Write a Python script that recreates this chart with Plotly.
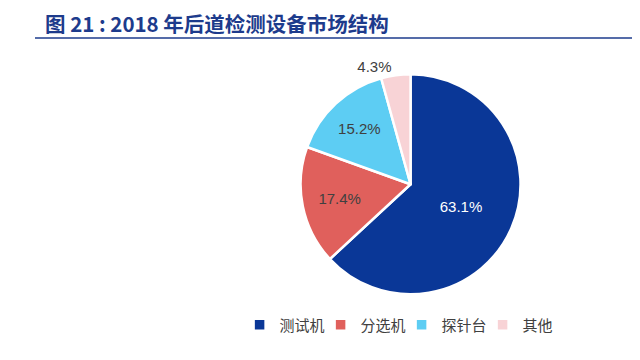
import plotly.graph_objects as go

categories = ["测试机", "分选机", "探针台", "其他"]
values = [63.1, 17.4, 15.2, 4.3]
colors = ["#0A3797", "#E0605C", "#5DCDF3", "#F8D3D6"]
text_colors = ["#FFFFFF", "#404040", "#404040", "#404040"]
positions = ["inside", "inside", "inside", "outside"]
title_text = "图 21 : 2018 年后道检测设备市场结构"

fig = go.Figure(go.Pie(
    labels=categories,
    values=values,
    sort=False,
    direction="clockwise",
    rotation=0,
    marker=dict(colors=colors, line=dict(color="#FFFFFF", width=2.5)),
    texttemplate="%{value:.1f}%",
    textposition=positions,
    insidetextorientation="horizontal",
    textfont=dict(family="Liberation Sans, Arial", size=15, color=text_colors),
    outsidetextfont=dict(family="Liberation Sans, Arial", size=15, color="#404040"),
    hoverinfo="skip",
    domain=dict(x=[0.457, 0.801], y=[0.205, 0.816]),
))

fig.update_layout(
    width=640, height=360,
    margin=dict(l=0, r=0, t=0, b=0),
    paper_bgcolor="white",
    plot_bgcolor="white",
    showlegend=True,
    legend=dict(orientation="h", x=0.615, xanchor="center", y=1 - 317/360, yanchor="middle",
                font=dict(family="Noto Sans CJK SC", size=15, color="#404040"),
                itemwidth=30, entrywidth=36, entrywidthmode="pixels", traceorder="normal"),
    annotations=[dict(text=title_text, x=35/640, xanchor="left", y=1 - 15/360, yanchor="middle",
                      xref="paper", yref="paper", showarrow=False,
                      font=dict(family="Noto Sans CJK SC", size=20.5, color="#1D3B8C", weight="bold"))],
    shapes=[dict(type="line", xref="paper", yref="paper", x0=27/640, x1=1, y0=1 - 30/360, y1=1 - 30/360,
                 line=dict(color="#1D3B8C", width=1.5))],
)

fig.write_html("out.html")
